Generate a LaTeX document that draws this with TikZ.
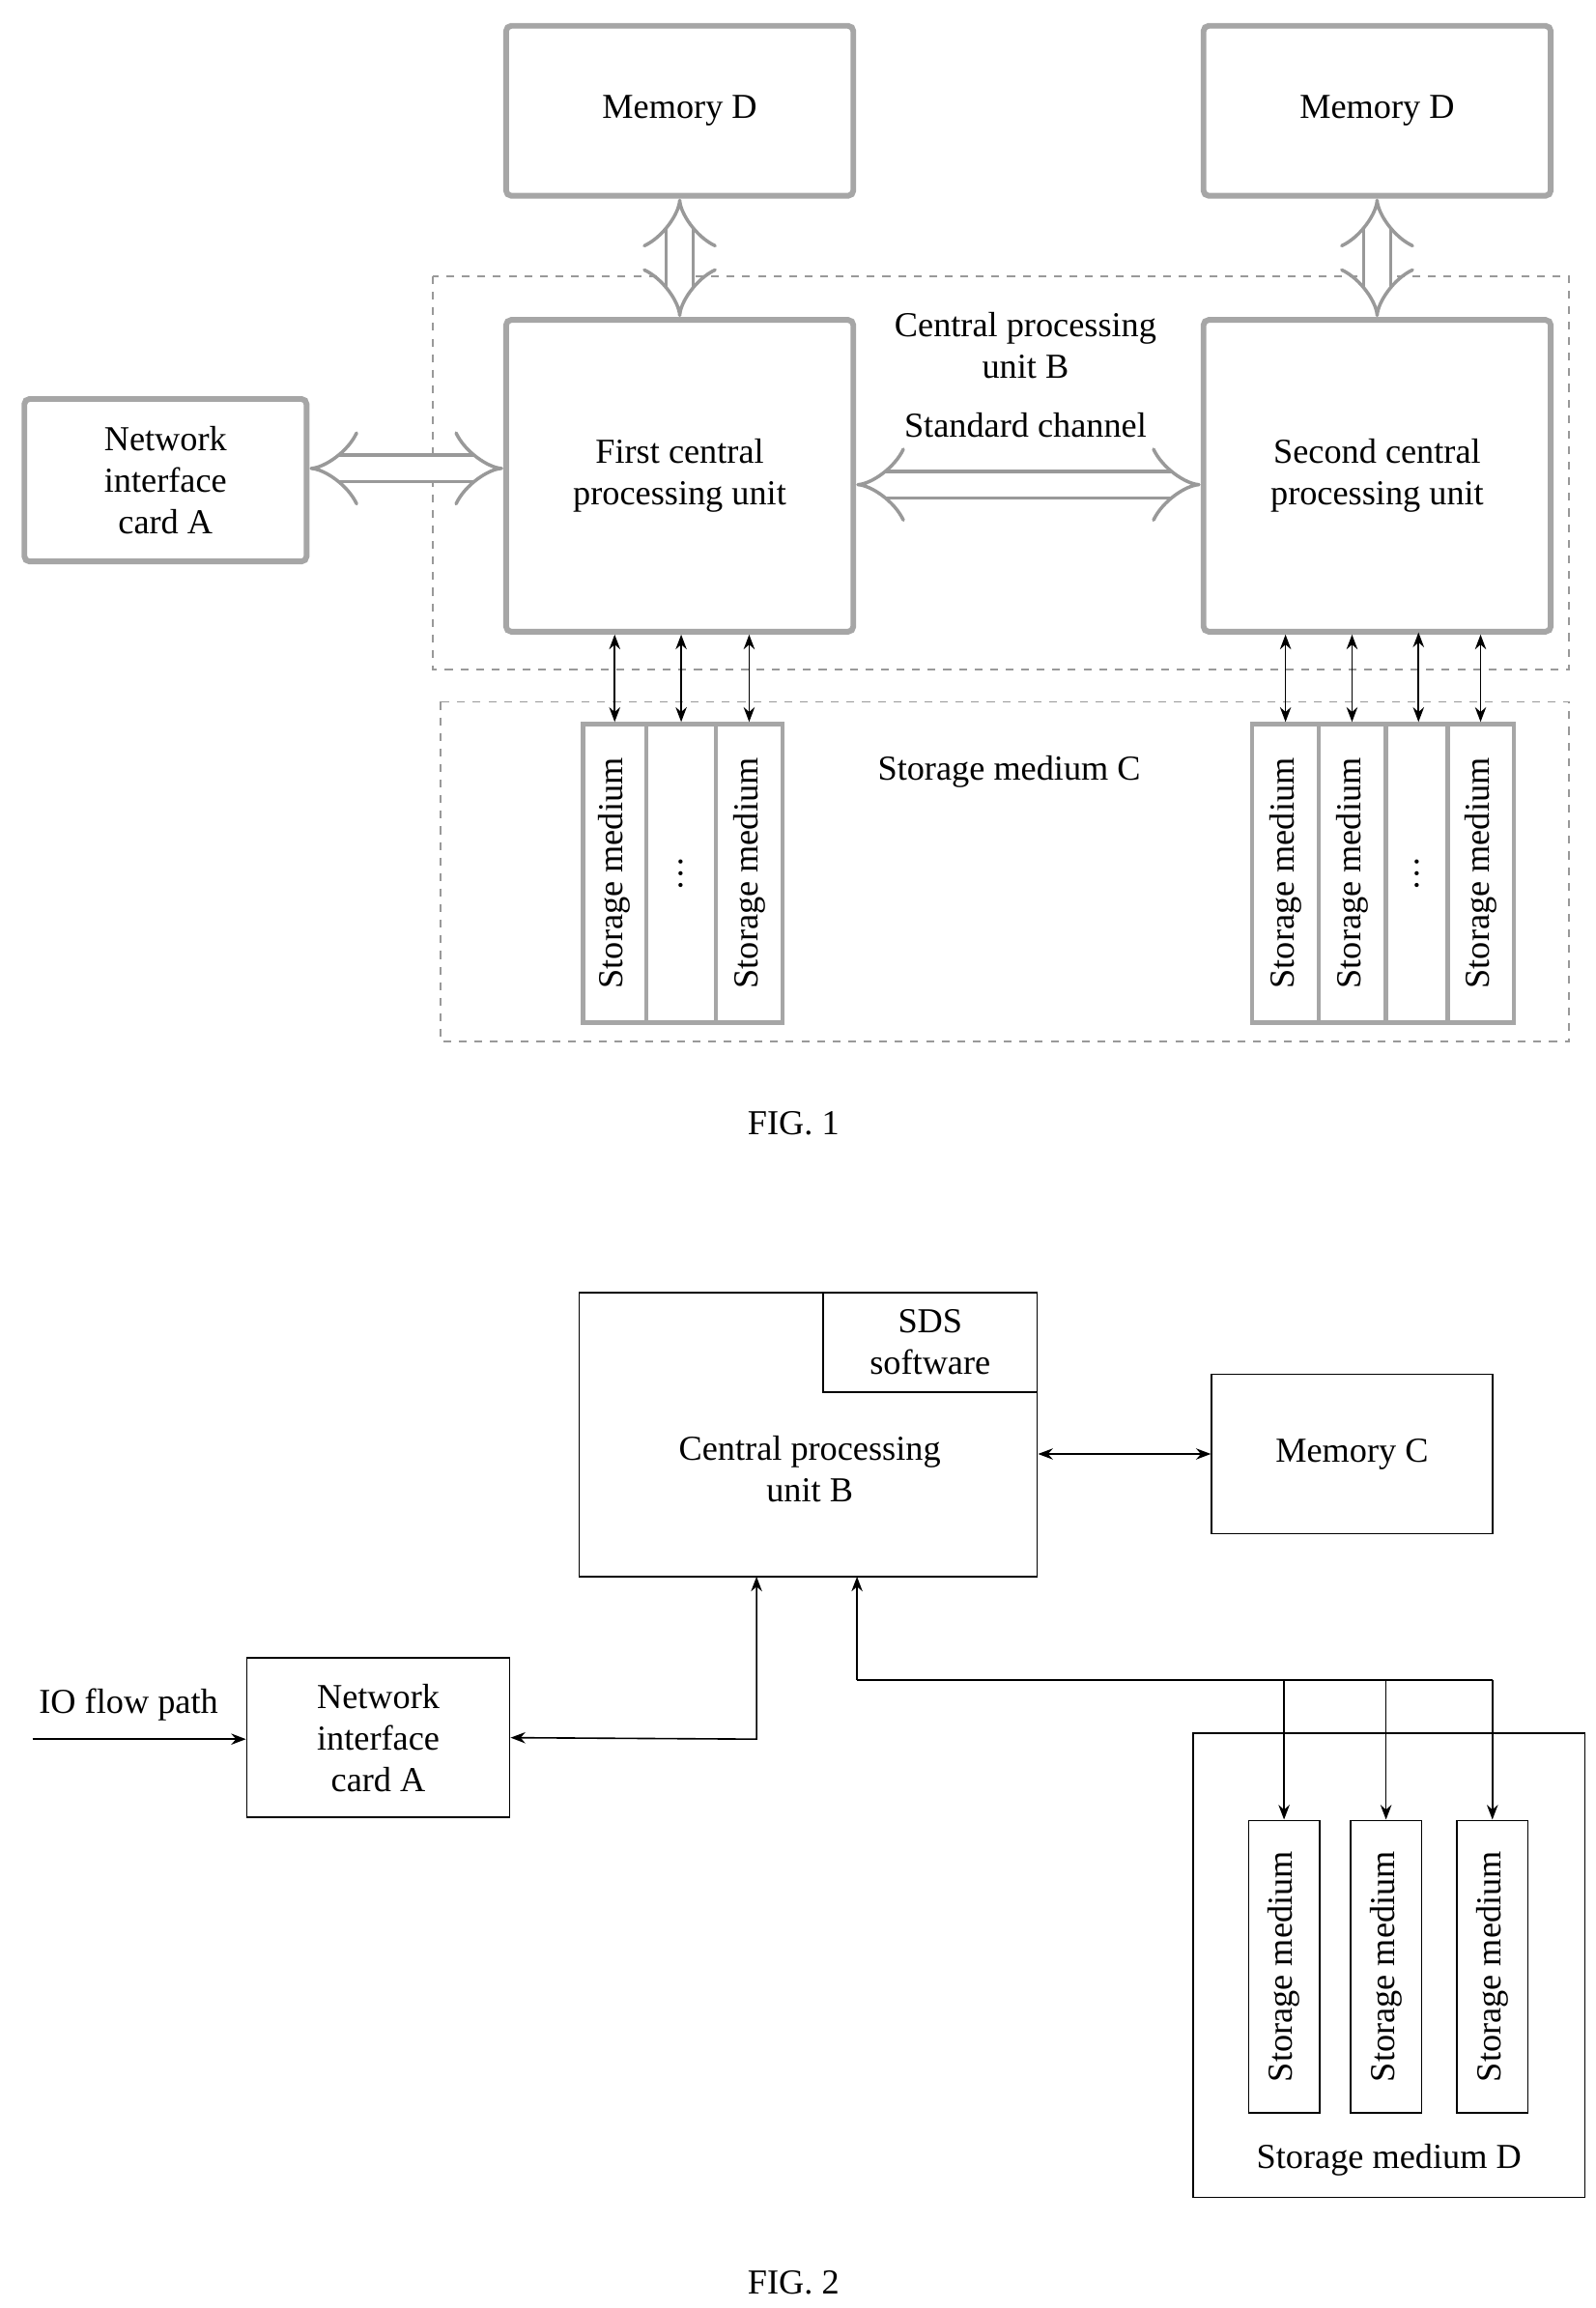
\documentclass[tikz,border=0pt]{standalone}
\usepackage{fontspec}
\setmainfont{Liberation Serif}
\usetikzlibrary{positioning,arrows.meta}
\begin{document}
\begin{tikzpicture}[x=0.02cm,y=-0.02cm,font=\fontsize{13.5}{16}\selectfont,
  gbox/.style={draw=gray!70,line width=2.2pt,rounded corners=2pt,align=center,inner sep=0pt},
  dbox/.style={draw=gray!80,dashed,line width=0.6pt},
  bigarrow/.style={draw=gray!80,line width=1.3pt,double=white,double distance=9pt,Implies-Implies},
  thin/.style={draw=gray!70,line width=1.6pt},
  small/.style={Stealth-Stealth,line width=0.6pt},
  pbox/.style={draw,line width=0.6pt,align=center,inner sep=0pt},
  sto/.style={pbox,minimum width=48*0.02cm,minimum height=198*0.02cm},
  lbl/.style={align=center,inner sep=0pt}]
\useasboundingbox (0,0) rectangle (1080,1562);
% FIG. 1
\draw[dbox] (293,187) rectangle (1062,453);
\draw[dbox] (298,475) rectangle (1062,705);
\node[gbox,minimum width=235*0.02cm,minimum height=115*0.02cm] (memL) at (460,75) {Memory D};
\node[gbox,minimum width=235*0.02cm,minimum height=115*0.02cm] (memR) at (932,75) {Memory D};
\node[gbox,minimum width=235*0.02cm,minimum height=211*0.02cm] (cpuL) at (460,322) {First central\\processing unit};
\node[gbox,minimum width=235*0.02cm,minimum height=211*0.02cm] (cpuR) at (932,322) {Second central\\processing unit};
\node[gbox,minimum width=191*0.02cm,minimum height=110*0.02cm] (nicA) at (112,325) {Network\\interface\\card A};
\node[lbl] (cpuB) at (694,234) {Central processing\\unit B};
\node[lbl] (chan) at (694,288) {Standard channel};
\node[lbl] (stoC) at (683,522) {Storage medium C};
\draw[bigarrow] (memL.south) -- (cpuL.north);
\draw[bigarrow] (memR.south) -- (cpuR.north);
\draw[bigarrow] (nicA.east |- 0,317) -- (cpuL.west |- 0,317);
\draw[bigarrow] (cpuL.east |- 0,328) -- (cpuR.west |- 0,328);
% storage cells, left group
\foreach \n/\x/\w/\t in {l1/416/43/{Storage medium},l2/461/47/{\dots},l3/507/45/{Storage medium},
    r1/870/45/{Storage medium},r2/915/45/{Storage medium},r3/959/42/{\dots},r4/1002/45/{Storage medium}}{
  \node[thin,minimum width=\w*0.02cm,minimum height=202*0.02cm,inner sep=0pt] (s\n) at (\x,591) {};
  \node[rotate=90] at (s\n) {\t};
}
\foreach \n in {l1,l2,l3,r1,r2,r4}
  \draw[small] (s\n.north) -- (s\n.north |- cpuL.south);
\draw[small] (sr3.north -| 960,0) -- (960,428);
% FIG. 2
\node[pbox,minimum width=310*0.02cm,minimum height=192*0.02cm] (cpu) at (547,971) {};
\node[pbox,minimum width=145*0.02cm,minimum height=67*0.02cm,anchor=north east] (sds) at (cpu.north east) {SDS\\software};
\node[lbl] at (548,994) {Central processing\\unit B};
\node[pbox,minimum width=190*0.02cm,minimum height=108*0.02cm] (memC) at (915,984) {Memory C};
\node[pbox,minimum width=178*0.02cm,minimum height=108*0.02cm] (nic) at (256,1176) {Network\\interface\\card A};
\node[pbox,minimum width=265*0.02cm,minimum height=314*0.02cm] (stoD) at (940,1330) {};
\node[lbl] at (940,1462) {Storage medium D};
\foreach \n/\x in {1/869,2/938,3/1010}{
  \node[sto] (d\n) at (\x,1331) {};
  \node[rotate=90] at (d\n) {Storage medium};
}
\coordinate (io) at (22,1177);
\node[lbl] at (87,1154) {IO flow path};
\draw[-Stealth,line width=0.6pt] (io) -- (io -| nic.west);
\draw[small] (cpu.east |- memC) -- (memC.west);
\draw[small] (nic.east) -- (512,1177) -- (512,1067);
\draw[-Stealth,line width=0.6pt] (580,1137) -- (580,1067);
\draw[line width=0.6pt] (580,1137) -- (1010,1137);
\foreach \n in {1,2,3}
  \draw[-Stealth,line width=0.6pt] (d\n.north |- 0,1137) -- (d\n.north);
\node[lbl] at (537,760) {FIG. 1};
\node[lbl] at (537,1545) {FIG. 2};
\end{tikzpicture}
\end{document}
